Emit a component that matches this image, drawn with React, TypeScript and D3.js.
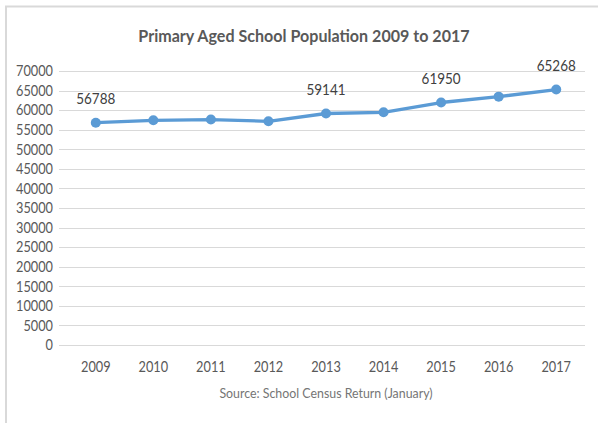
import { useRef, useEffect } from "react";
import * as d3 from "d3";

// values
const years = ["2009", "2010", "2011", "2012", "2013", "2014", "2015", "2016", "2017"];
const population = [56788, 57400, 57600, 57150, 59141, 59450, 61950, 63450, 65268];
const labelledYears = ["2009", "2013", "2015", "2017"];
const yTicks = [0, 5000, 10000, 15000, 20000, 25000, 30000, 35000, 40000, 45000, 50000, 55000, 60000, 65000, 70000];

const App = () => {
  const svgRef = useRef(null);

  useEffect(() => {
    const svg = d3.select(svgRef.current);
    svg.selectAll("*").remove();
    const W = 598;
    const H = 423;
    const margins = { left: 67, top: 71, right: 13, bottom: 78 };
    const font = "Lato, 'Open Sans', sans-serif";

    svg.append("rect").attr("width", W).attr("height", H).attr("fill", "#fff");
    // chart frame (only the top and left edges are in view)
    svg
      .append("rect")
      .attr("x", 6)
      .attr("y", 6.5)
      .attr("width", 640)
      .attr("height", 440)
      .attr("fill", "none")
      .attr("stroke", "#d9d9d9")
      .attr("stroke-width", 2);

    let x = d3
      .scaleBand()
      .domain(years)
      .range([margins.left, W - margins.right]);
    let y = d3
      .scaleLinear()
      .domain([0, 70000])
      .range([H - margins.bottom, margins.top]);

    // gridlines
    svg
      .append("g")
      .selectAll("line")
      .data(yTicks)
      .join("line")
      .attr("x1", margins.left - 8)
      .attr("x2", W - margins.right)
      .attr("y1", (d) => Math.round(y(d)) + 0.5)
      .attr("y2", (d) => Math.round(y(d)) + 0.5)
      .attr("stroke", "#d9d9d9")
      .attr("stroke-width", 1);

    // y labels, squeezed a little to mimic the narrow digits of the original
    svg
      .append("g")
      .selectAll("text")
      .data(yTicks)
      .join("text")
      .attr("transform", (d) => `translate(53,${y(d)}) scale(0.85,1)`)
      .attr("dy", "0.35em")
      .attr("text-anchor", "end")
      .attr("font-family", font)
      .attr("font-size", 15)
      .attr("fill", "#595959")
      .text((d) => d);

    // x labels
    svg
      .append("g")
      .selectAll("text")
      .data(years)
      .join("text")
      .attr("transform", (d) => `translate(${x(d) + x.bandwidth() / 2},367) scale(0.85,1)`)
      .attr("dy", "0.35em")
      .attr("text-anchor", "middle")
      .attr("font-family", font)
      .attr("font-size", 15)
      .attr("fill", "#595959")
      .text((d) => d);

    const pts = years.map((yr, i) => ({ yr, v: population[i] }));
    const line = d3
      .line()
      .x((d) => x(d.yr) + x.bandwidth() / 2)
      .y((d) => y(d.v));

    svg
      .append("path")
      .datum(pts)
      .attr("d", line)
      .attr("fill", "none")
      .attr("stroke", "#5b9bd5")
      .attr("stroke-width", 3.3)
      .attr("stroke-linejoin", "round");

    svg
      .append("g")
      .selectAll("circle")
      .data(pts)
      .join("circle")
      .attr("cx", (d) => x(d.yr) + x.bandwidth() / 2)
      .attr("cy", (d) => y(d.v))
      .attr("r", 5)
      .attr("fill", "#5b9bd5");

    // data labels
    svg
      .append("g")
      .selectAll("text")
      .data(pts.filter((d) => labelledYears.includes(d.yr)))
      .join("text")
      .attr("transform", (d) => `translate(${x(d.yr) + x.bandwidth() / 2},${y(d.v) - 24}) scale(0.87,1)`)
      .attr("dy", "0.35em")
      .attr("text-anchor", "middle")
      .attr("font-family", font)
      .attr("font-size", 15.5)
      .attr("fill", "#404040")
      .text((d) => d.v);

    // title
    svg
      .append("text")
      .attr("transform", "translate(304,36) scale(0.92,1)")
      .attr("dy", "0.35em")
      .attr("text-anchor", "middle")
      .attr("font-family", font)
      .attr("font-size", 17.5)
      .attr("font-weight", "bold")
      .attr("fill", "#595959")
      .text("Primary Aged School Population 2009 to 2017");

    // source note
    svg
      .append("text")
      .attr("transform", "translate(326,393) scale(0.93,1)")
      .attr("dy", "0.35em")
      .attr("text-anchor", "middle")
      .attr("font-family", font)
      .attr("font-size", 13.3)
      .attr("fill", "#757575")
      .text("Source: School Census Return (January)");
  }, []);

  return (
    <div style={{ position: "absolute", left: 0, top: 0 }}>
      <svg ref={svgRef} width={598} height={423} style={{ display: "block" }} />
    </div>
  );
};

export default App;
